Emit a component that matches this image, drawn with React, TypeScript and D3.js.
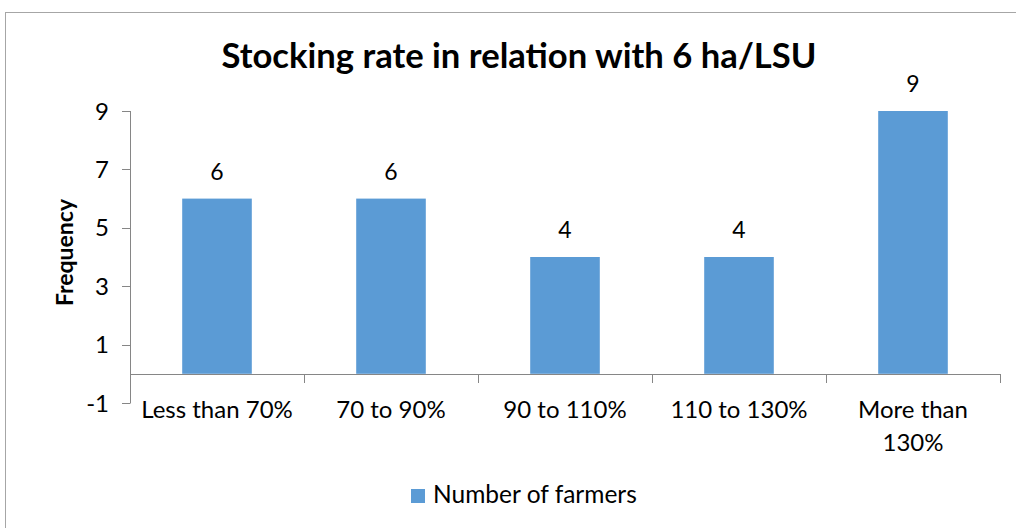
import React from "react";
import * as d3 from "d3";

const categories: string[][] = [
  ["Less than 70%"],
  ["70 to 90%"],
  ["90 to 110%"],
  ["110 to 130%"],
  ["More than", "130%"],
];
const categoryKeys = ["Less than 70%", "70 to 90%", "90 to 110%", "110 to 130%", "More than 130%"];
const values = [6, 6, 4, 4, 9];
const yTicks = [-1, 1, 3, 5, 7, 9];
const title = "Stocking rate in relation with 6 ha/LSU";
const yTitle = "Frequency";
const seriesName = "Number of farmers";

const W = 1016;
const H = 528;
const FONT = "Lato, 'Open Sans', sans-serif";
const BAR = "#5B9BD5";
const AXIS = "#868686";

export default function App() {
  const x = d3.scaleBand<string>().domain(categoryKeys).range([130, 1000]).padding(0);
  const y = d3.scaleLinear().domain([-1, 9]).range([403, 111]);
  const bw = x.bandwidth() * 0.4;
  const y0 = y(0);
  const boundaries = categoryKeys.map((k) => (x(k) as number) + x.bandwidth());

  return (
    <svg
      width={W}
      height={H}
      style={{ position: "absolute", left: 0, top: 0, background: "#fff" }}
      fontFamily={FONT}
    >
      <rect x={5.5} y={12.5} width={W + 20} height={H + 20} fill="#fff" stroke="#a6a6a6" strokeWidth={1} />
      <text x={519} y={68} textAnchor="middle" fontSize={35} fontWeight="bold" fill="#000" textLength={595} lengthAdjust="spacingAndGlyphs">
        {title}
      </text>

      {/* bars */}
      {values.map((v, i) => {
        const cx = (x(categoryKeys[i]) as number) + x.bandwidth() / 2;
        return (
          <g key={i}>
            <rect x={cx - bw / 2} y={y(v)} width={bw} height={y0 - y(v)} fill={BAR} />
            <text x={cx} y={y(v) - 19} textAnchor="middle" fontSize={23} fill="#000">
              {v}
            </text>
          </g>
        );
      })}

      {/* y axis */}
      <line x1={130.5} x2={130.5} y1={y(9)} y2={y(-1)} stroke={AXIS} strokeWidth={1} />
      {yTicks.map((t) => (
        <g key={t}>
          <line x1={122} x2={130.5} y1={Math.round(y(t)) + 0.5} y2={Math.round(y(t)) + 0.5} stroke={AXIS} />
          <text x={109} y={y(t)} dy="0.36em" textAnchor="end" fontSize={24} fill="#000">
            {t}
          </text>
        </g>
      ))}

      {/* x axis */}
      <line x1={130} x2={1000.5} y1={Math.round(y0) + 0.5} y2={Math.round(y0) + 0.5} stroke={AXIS} />
      {boundaries.map((b, i) => (
        <line key={i} x1={Math.round(b) + 0.5} x2={Math.round(b) + 0.5} y1={Math.round(y0)} y2={Math.round(y0) + 9} stroke={AXIS} />
      ))}
      {categories.map((lines, i) => {
        const cx = (x(categoryKeys[i]) as number) + x.bandwidth() / 2;
        return (
          <text key={i} x={cx} y={418} textAnchor="middle" fontSize={24} fill="#000">
            {lines.map((l, j) => (
              <tspan key={j} x={cx} dy={j === 0 ? 0 : 33}>
                {l}
              </tspan>
            ))}
          </text>
        );
      })}

      {/* y title */}
      <text
        transform={`translate(73,252.5) rotate(-90)`}
        textAnchor="middle"
        fontSize={23}
        fontWeight="bold"
        fill="#000"
      >
        {yTitle}
      </text>

      {/* legend */}
      <rect x={411} y={489} width={14} height={14} fill={BAR} />
      <text x={433} y={503} fontSize={24.5} fill="#000">
        {seriesName}
      </text>
    </svg>
  );
}
